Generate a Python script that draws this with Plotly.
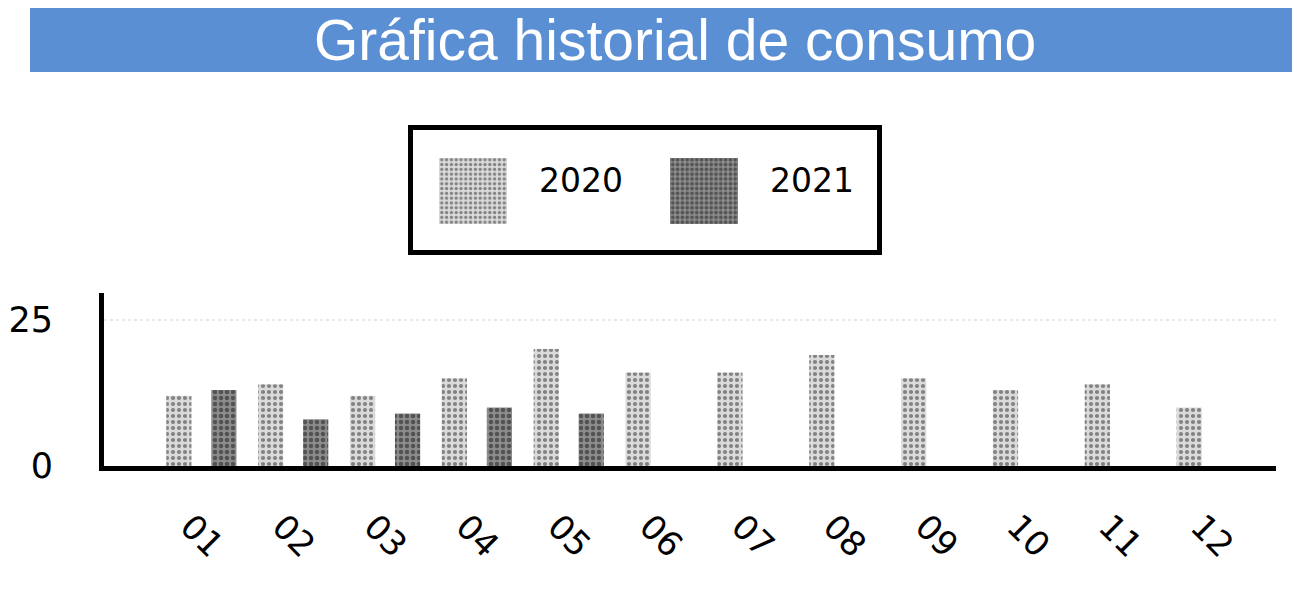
import plotly.graph_objects as go

months = ["01", "02", "03", "04", "05", "06", "07", "08", "09", "10", "11", "12"]
consumo_2020 = [12, 14, 12, 15, 20, 16, 16, 19, 15, 13, 14, 10]
consumo_2021 = [13, 8, 9, 10, 9, None, None, None, None, None, None, None]
title_text = "Gráfica historial de consumo"

fig = go.Figure()
fig.add_trace(go.Bar(
    name="2020", x=months, y=consumo_2020,
    marker=dict(color="#d6d6d6", line=dict(width=0),
                pattern=dict(shape=".", fgcolor="#2a2a2a", bgcolor="#dadada", size=6, solidity=0.38)),
))
fig.add_trace(go.Bar(
    name="2021", x=months, y=consumo_2021,
    marker=dict(color="#8a8a8a", line=dict(width=0),
                pattern=dict(shape=".", fgcolor="#1a1a1a", bgcolor="#8c8c8c", size=6, solidity=0.45)),
))

# page body adds an 8px offset; figure sized to fit the window
OFF = 8
W, H = 1292, 582
L, R, T, B = 96, 24, 285, 124
pw = W - L - R
ph = H - T - B

def px_x(x):
    return (x - OFF - L) / pw

def px_y(y):
    return (H - B - (y - OFF)) / ph

# title banner
fig.add_shape(type="rect", xref="paper", yref="paper",
              x0=px_x(30), x1=px_x(1310), y0=px_y(72), y1=px_y(8),
              fillcolor="#5b8fd4", line=dict(width=0), layer="below")
fig.add_annotation(text=title_text, xref="paper", yref="paper",
                   x=px_x(675), y=px_y(40), showarrow=False,
                   xanchor="center", yanchor="middle",
                   font=dict(family="Liberation Sans, Arial", size=57, color="white"))
# legend frame
fig.add_shape(type="rect", xref="paper", yref="paper",
              x0=px_x(410.5), x1=px_x(879.5), y0=px_y(252.5), y1=px_y(127.5),
              fillcolor="rgba(0,0,0,0)", line=dict(width=5, color="black"))

fig.update_layout(
    width=W, height=H,
    margin=dict(l=L, r=R, t=T, b=B, autoexpand=False),
    paper_bgcolor="white", plot_bgcolor="white",
    barmode="group", bargap=0.02, bargroupgap=0.44,
    showlegend=True,
    legend=dict(orientation="h", x=px_x(449), y=px_y(151), xanchor="left", yanchor="top",
                borderwidth=0, bgcolor="rgba(0,0,0,0)",
                font=dict(family="DejaVu Sans", size=33, color="black"),
                itemwidth=80, itemsizing="constant", entrywidthmode="pixels", entrywidth=136),
    xaxis=dict(type="category", range=[-1.06, 11.7], showline=True, linecolor="black", linewidth=5,
               ticks="", tickangle=45, ticklabelstandoff=22, ticklabelshift=-11, automargin=False,
               tickfont=dict(family="DejaVu Sans", size=34, color="black"), showgrid=False),
    yaxis=dict(range=[0, 29.6], tickvals=[0, 25], ticktext=["0", "25"],
               showline=True, linecolor="black", linewidth=5, ticks="",
               ticklabelstandoff=39, zeroline=False, automargin=False,
               tickfont=dict(family="DejaVu Sans", size=35, color="black"),
               showgrid=True, gridcolor="#e8e8e8", griddash="dot", gridwidth=2),
)

post = """
var gd = document.getElementsByClassName('plotly-graph-div')[0];
function bigSwatch(){
  gd.querySelectorAll('.legend .scrollbox').forEach(function(s){ s.removeAttribute('clip-path'); });
  gd.querySelectorAll('.legend').forEach(function(s){ s.style.overflow = 'visible'; });
  var pts = gd.querySelectorAll('.legend .legendpoints path');
  pts.forEach(function(p){
    p.setAttribute('d','M34,33H-34V-33H34Z');
    p.setAttribute('transform','translate(24,12)');
  });
}
bigSwatch();
gd.on('plotly_afterplot', bigSwatch);
"""

fig.write_html("out.html", post_script=post)
